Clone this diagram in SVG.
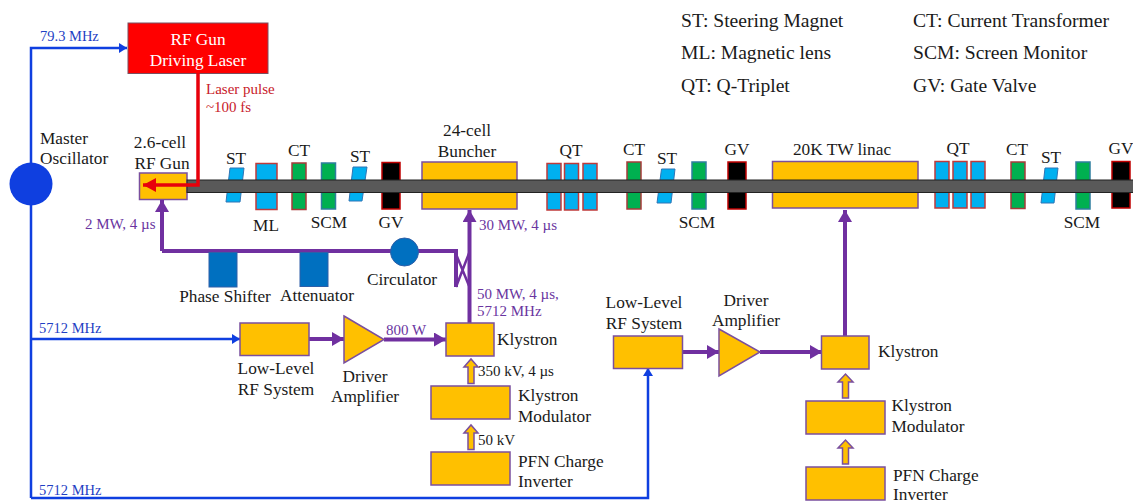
<svg xmlns="http://www.w3.org/2000/svg" width="1133" height="502" viewBox="0 0 1133 502">
<defs>
<style>
text{font-family:"Liberation Serif","Times New Roman",serif;fill:#1a1a1a;font-size:17.300px}
.m{text-anchor:middle}
.lg{font-size:19.600px}
.b{fill:#1f3fc4;font-size:14.500px}
.p{fill:#6a35a0;font-size:15px}
.r{fill:#c8202a;font-size:15px}
.k{font-size:15px}
.w{fill:#fff}
.gold{fill:#ffc000;stroke:#7a4f9e;stroke-width:1.5}
.q{fill:#00b0f0;stroke:#c03a3a;stroke-width:1.5}
.ct{fill:#00b050;stroke:#a83a3a;stroke-width:1.5}
.scm{fill:#00b050;stroke:#2e7d9e;stroke-width:1.5}
.gv{fill:#000;stroke:#c00000;stroke-width:1.5}
.st{fill:#00b0f0;stroke:#2e75b6;stroke-width:1}
.ctl{fill:#0070c0;stroke:#2e5fa8;stroke-width:1}
.pl{fill:none;stroke:#7030a0;stroke-width:4}
.bl{fill:none;stroke:#0f3fe0;stroke-width:2.500}
.hollow{fill:#ffc000;stroke:#7a4f9e;stroke-width:1.500}
</style>
<marker id="pa" markerUnits="userSpaceOnUse" markerWidth="13" markerHeight="14" refX="12" refY="7" orient="auto"><path d="M0,0L12,7L0,14z" fill="#7030a0"/></marker>
<marker id="ba" markerUnits="userSpaceOnUse" markerWidth="9" markerHeight="10" refX="8" refY="5" orient="auto"><path d="M0,0L8,5L0,10z" fill="#0f3fe0"/></marker>
<marker id="ra" markerUnits="userSpaceOnUse" markerWidth="14" markerHeight="14" refX="13" refY="7" orient="auto"><path d="M0,0L13,7L0,14z" fill="#e8000b"/></marker>
</defs>

<g id="connectors">
<path class="bl" d="M31,498V48H127" marker-end="url(#ba)"/>
<path class="bl" d="M31,339H240" marker-end="url(#ba)"/>
<path class="bl" d="M31,498H648V368" marker-end="url(#ba)"/>
</g>

<g id="node-gun"><rect class="gold" x="139.500" y="173" width="47.500" height="26.500"/><text class="m" x="160" y="148">2.6-cell</text><text class="m" x="162" y="169">RF Gun</text></g>
<g id="node-laser"><rect x="128" y="23" width="140" height="50.500" fill="#ff0000" stroke="#7a4f60" stroke-width="1"/><text class="m w" x="198" y="45">RF Gun</text><text class="m w" x="198" y="66">Driving Laser</text></g>
<g id="node-oscillator"><circle cx="31" cy="184" r="21.500" fill="#0f3fe0"/><text x="40" y="144">Master</text><text x="40" y="164">Oscillator</text></g>

<g id="node-st1"><path class="st" d="M230,168H244L240,202H226z"/><text class="m" x="236" y="164">ST</text></g>
<g id="node-ml"><rect class="q" x="256" y="163.500" width="21" height="46"/><text class="m" x="266" y="231">ML</text></g>
<g id="node-ct1"><rect class="ct" x="292" y="163" width="14" height="46.500"/><text class="m" x="299" y="156">CT</text></g>
<g id="node-scm1"><rect class="scm" x="321.500" y="163" width="14" height="46"/><text class="m" x="329" y="228">SCM</text></g>
<g id="node-st2"><path class="st" d="M353,167H367L362,201H349z"/><text class="m" x="360" y="162">ST</text></g>
<g id="node-gv1"><rect class="gv" x="382" y="162.500" width="18" height="46.500"/><text class="m" x="391" y="228">GV</text></g>
<g id="node-buncher"><rect class="gold" x="422" y="162" width="95" height="47"/><text class="m" x="467" y="136">24-cell</text><text class="m" x="467" y="157">Buncher</text></g>
<g id="node-qt1"><rect class="q" x="547" y="163.500" width="14" height="46.500"/><rect class="q" x="564.500" y="163.500" width="14" height="46.500"/><rect class="q" x="583" y="163.500" width="14" height="46.500"/><text class="m" x="571" y="156">QT</text></g>
<g id="node-ct2"><rect class="ct" x="627" y="162" width="14" height="47"/><text class="m" x="634" y="155">CT</text></g>
<g id="node-st3"><path class="st" d="M661.500,169H675L671,203H657z"/><text class="m" x="667" y="164">ST</text></g>
<g id="node-scm2"><rect class="scm" x="692" y="162" width="14" height="47"/><text class="m" x="697" y="228">SCM</text></g>
<g id="node-gv2"><rect class="gv" x="728" y="162" width="18" height="47"/><text class="m" x="737" y="155">GV</text></g>
<g id="node-linac"><rect class="gold" x="772.500" y="161.500" width="145.500" height="46.500"/><text class="m" x="842" y="155">20K TW linac</text></g>
<g id="node-qt2"><rect class="q" x="935" y="161.500" width="14" height="46.500"/><rect class="q" x="953" y="161.500" width="14" height="46.500"/><rect class="q" x="971" y="161.500" width="14" height="46.500"/><text class="m" x="958" y="154">QT</text></g>
<g id="node-ct3"><rect class="ct" x="1011" y="162" width="14" height="46.500"/><text class="m" x="1017" y="155">CT</text></g>
<g id="node-st4"><path class="st" d="M1045,168H1058L1054,203H1041z"/><text class="m" x="1051" y="163">ST</text></g>
<g id="node-scm3"><rect class="scm" x="1076" y="162" width="14" height="47"/><text class="m" x="1082" y="228">SCM</text></g>
<g id="node-gv3"><rect class="gv" x="1112" y="161.500" width="18" height="46.500"/><text class="m" x="1121" y="154">GV</text></g>

<g id="beam-pipe"><rect x="187" y="180" width="947" height="12.500" fill="#595959" stroke="#222" stroke-width="1"/></g>

<g id="laser-path"><path d="M198,73V185H143" fill="none" stroke="#e8000b" stroke-width="3.500" marker-end="url(#ra)"/><text class="r" x="206" y="94">Laser pulse</text><text class="r" x="206" y="112">~100 fs</text></g>

<g id="rf-connectors">
<path class="pl" d="M162,251V200" marker-end="url(#pa)"/>
<path class="pl" d="M162,251H456V287"/>
<path class="pl" style="stroke-width:2.500" d="M456,254L469.500,287M456,287L469.500,252"/>
<path class="pl" d="M469.500,323V210" marker-end="url(#pa)"/>
<path class="pl" d="M309,339H344" marker-end="url(#pa)"/>
<path class="pl" d="M384,339.500H446" marker-end="url(#pa)"/>
<path class="pl" d="M683,352H719" marker-end="url(#pa)"/>
<path class="pl" d="M760,352H822" marker-end="url(#pa)"/>
<path class="pl" d="M845,336V210" marker-end="url(#pa)"/>
<path class="hollow" d="M468,383.500V367H464L471,359L478,367H474V383.500z"/>
<path class="hollow" d="M468,449.500V433H464L471,425L478,433H474V449.500z"/>
<path class="hollow" d="M842.500,398V382H838L845.500,374L853,382H848.500V398z"/>
<path class="hollow" d="M842.500,464V448H838L845.500,440L853,448H848.500V464z"/>
</g>

<g id="node-phase"><rect class="ctl" x="209" y="252.500" width="28" height="34.500"/><text class="m" x="225" y="302">Phase Shifter</text></g>
<g id="node-att"><rect class="ctl" x="300" y="252.500" width="28" height="34"/><text class="m" x="317" y="301">Attenuator</text></g>
<g id="node-circ"><circle cx="404.500" cy="252" r="14" fill="#0070c0" stroke="#2e5fa8"/><text class="m" x="402" y="285">Circulator</text></g>

<g id="node-llrf1"><rect class="gold" x="240" y="323" width="69" height="32.500"/><text class="m" x="276" y="374">Low-Level</text><text class="m" x="276" y="395">RF System</text></g>
<g id="node-amp1"><path class="gold" d="M344,316L384,339.500L344,363z"/><text class="m" x="365" y="382">Driver</text><text class="m" x="365" y="402">Amplifier</text></g>
<g id="node-kly1"><rect class="gold" x="446" y="323" width="48" height="33"/><text x="497" y="345">Klystron</text></g>
<g id="node-mod1"><rect class="gold" x="431" y="386" width="79" height="33"/><text x="518" y="401">Klystron</text><text x="518" y="422">Modulator</text></g>
<g id="node-pfn1"><rect class="gold" x="431" y="452" width="79" height="33"/><text x="518" y="467">PFN Charge</text><text x="518" y="487">Inverter</text></g>

<g id="node-llrf2"><rect class="gold" x="613.500" y="336" width="69" height="32.500"/><text class="m" x="644" y="308">Low-Level</text><text class="m" x="644" y="329">RF System</text></g>
<g id="node-amp2"><path class="gold" d="M719,329L760,352L719,376z"/><text class="m" x="746" y="306">Driver</text><text class="m" x="746" y="326">Amplifier</text></g>
<g id="node-kly2"><rect class="gold" x="821.500" y="336" width="47.500" height="33"/><text x="878" y="357">Klystron</text></g>
<g id="node-mod2"><rect class="gold" x="806" y="401" width="79" height="33"/><text x="891.500" y="411">Klystron</text><text x="891.500" y="432">Modulator</text></g>
<g id="node-pfn2"><rect class="gold" x="806" y="467" width="79" height="33"/><text x="893" y="481">PFN Charge</text><text x="893" y="500">Inverter</text></g>

<g id="labels">
<text class="b" x="40" y="41">79.3 MHz</text>
<text class="b" x="39" y="333">5712 MHz</text>
<text class="b" x="39" y="495">5712 MHz</text>
<text class="p" x="85" y="229">2 MW, 4 µs</text>
<text class="p" x="479" y="230">30 MW, 4 µs</text>
<text class="p" x="477" y="299">50 MW, 4 µs,</text>
<text class="p" x="477" y="316">5712 MHz</text>
<text class="p" x="386" y="335">800 W</text>
<text class="k" x="478" y="376">350 kV, 4 µs</text>
<text class="k" x="478" y="445">50 kV</text>
<text class="lg" x="681" y="27">ST: Steering Magnet</text>
<text class="lg" x="681" y="59">ML: Magnetic lens</text>
<text class="lg" x="681" y="92">QT: Q-Triplet</text>
<text class="lg" x="913" y="27">CT: Current Transformer</text>
<text class="lg" x="913" y="59">SCM: Screen Monitor</text>
<text class="lg" x="913" y="92">GV: Gate Valve</text>
</g>
</svg>
